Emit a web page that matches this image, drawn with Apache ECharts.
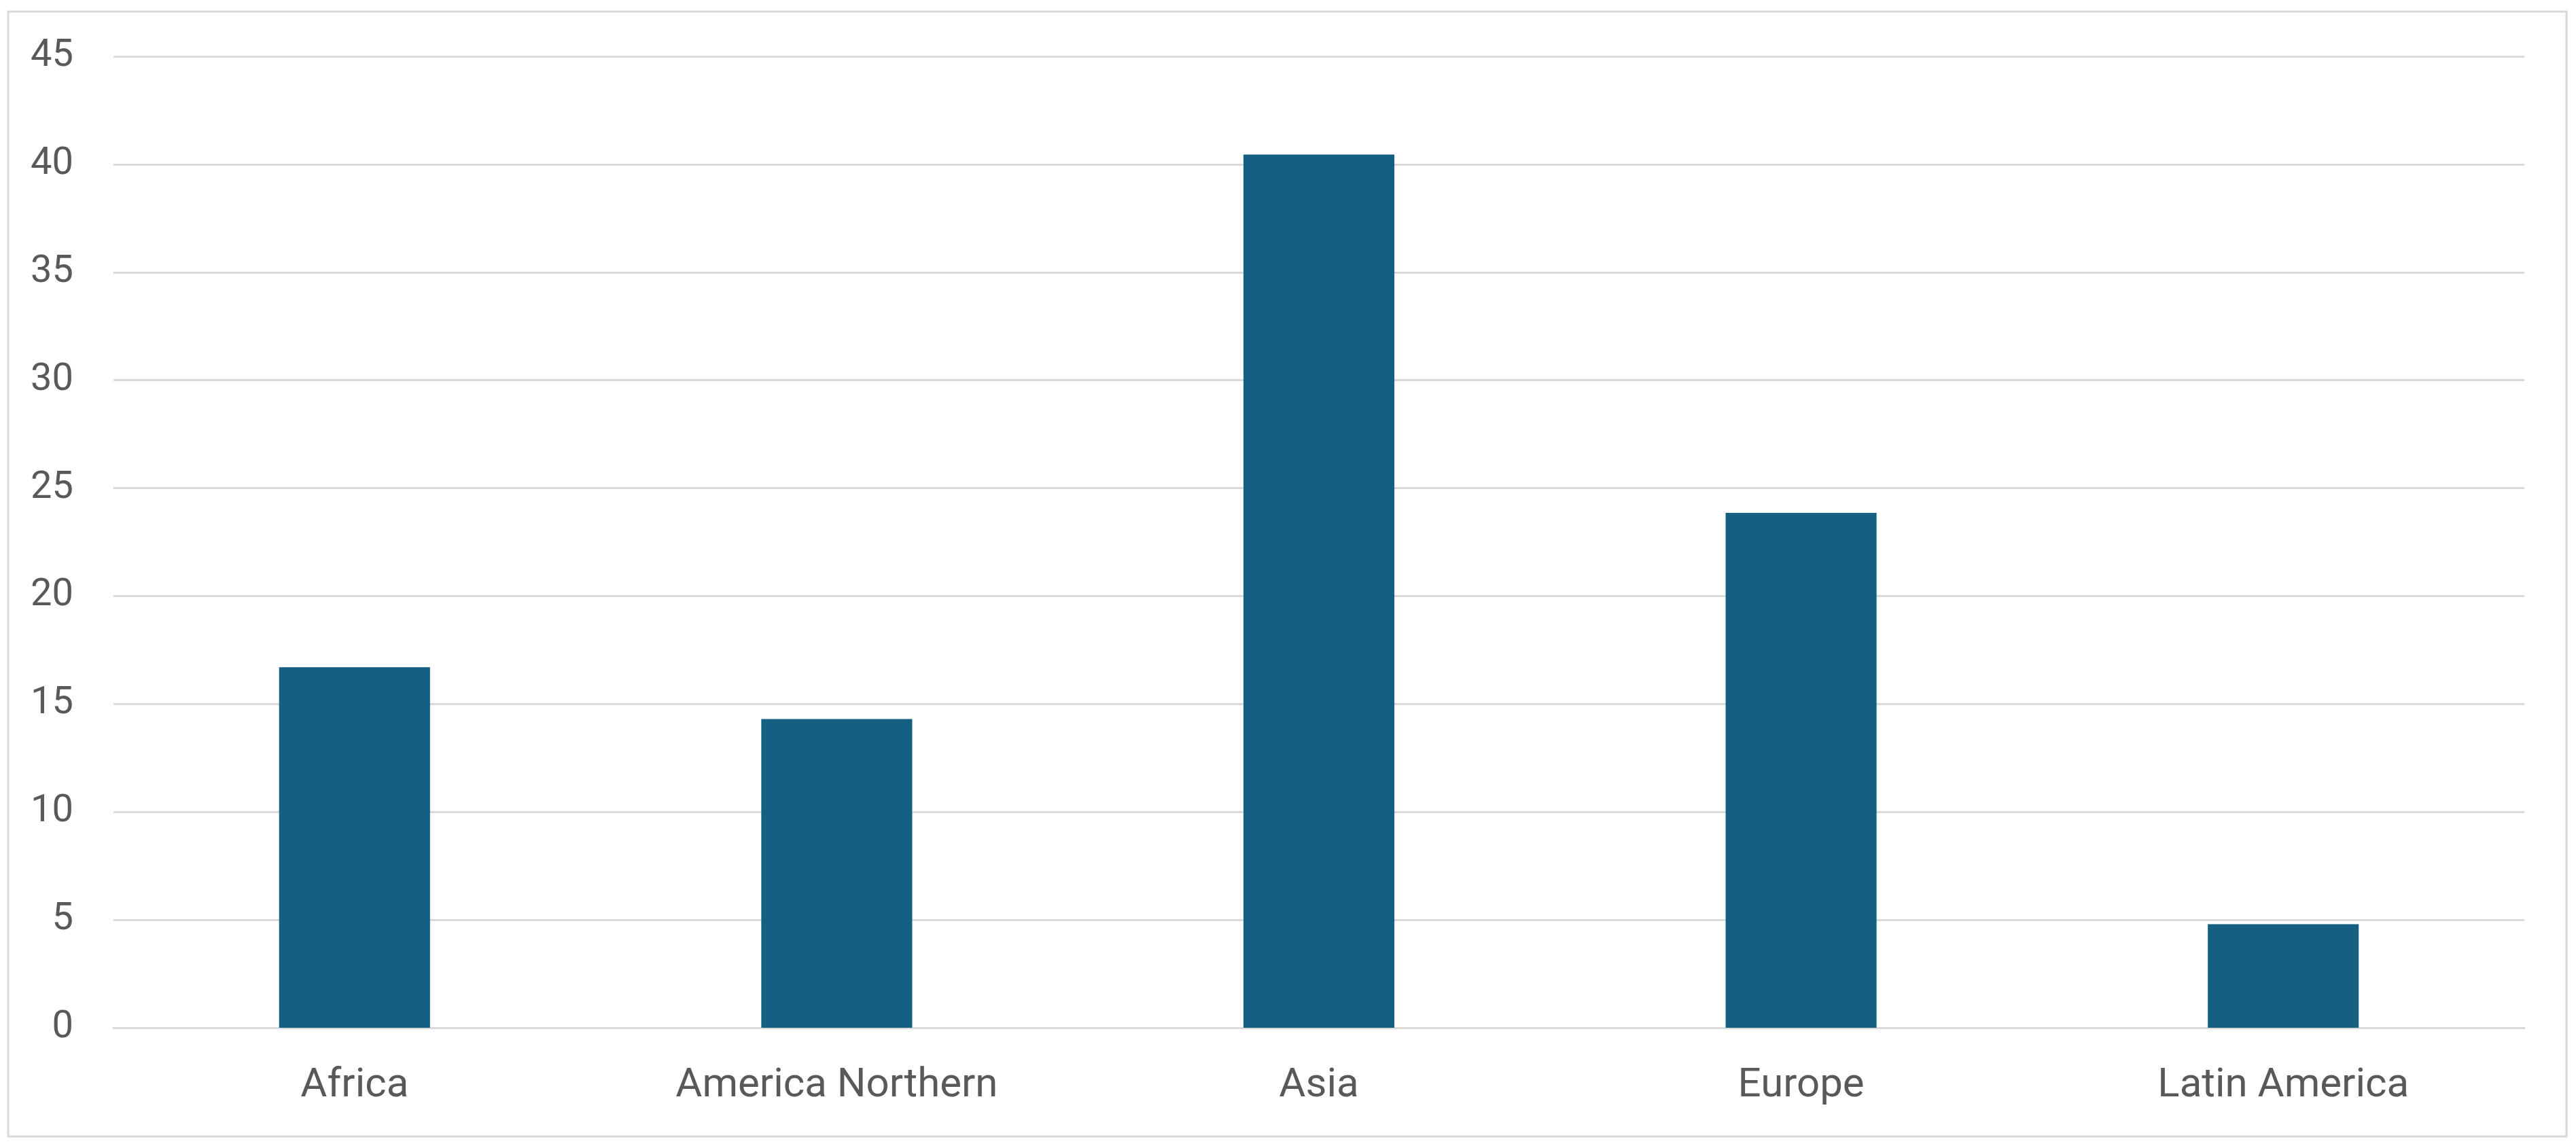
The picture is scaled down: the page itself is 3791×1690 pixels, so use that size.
<!DOCTYPE html>
<html>
<head>
<meta charset="utf-8">
<script src="https://cdn.jsdelivr.net/npm/echarts@6/dist/echarts.min.js"></script>
<style>
html,body{margin:0;padding:0;background:#fff;}
#chart{width:3791px;height:1690px;}
</style>
</head>
<body>
<div id="chart"></div>
<script>
const categories = ["Africa", "America Northern", "Asia", "Europe", "Latin America"];
const values = [16.7, 14.3, 40.45, 23.85, 4.8];
const yTicks = [0, 5, 10, 15, 20, 25, 30, 35, 40, 45];

const chart = echarts.init(document.getElementById('chart'));
chart.setOption({
  animation: false,
  backgroundColor: '#ffffff',
  graphic: [{
    type: 'rect',
    shape: { x: 12, y: 17, width: 3765, height: 1656 },
    style: { fill: 'none', stroke: '#d9d9d9', lineWidth: 3 },
    silent: true
  }],
  grid: { left: 167, right: 76, top: 83, bottom: 177, containLabel: false },
  xAxis: {
    type: 'category',
    data: categories,
    axisLine: { show: true, lineStyle: { color: '#d9d9d9', width: 3 } },
    axisTick: { show: false },
    axisLabel: { color: '#595959', fontFamily: 'Roboto', fontSize: 60, margin: 56 }
  },
  yAxis: {
    type: 'value',
    min: yTicks[0],
    max: yTicks[yTicks.length - 1],
    interval: yTicks[1] - yTicks[0],
    axisLine: { show: false },
    axisTick: { show: false },
    splitLine: { lineStyle: { color: '#d9d9d9', width: 3 } },
    axisLabel: { color: '#595959', fontFamily: 'Roboto', fontSize: 56, margin: 59, align: 'right' }
  },
  series: [{
    type: 'bar',
    data: values,
    barWidth: '31.3%',
    itemStyle: { color: '#156082' }
  }]
});
</script>
</body>
</html>
